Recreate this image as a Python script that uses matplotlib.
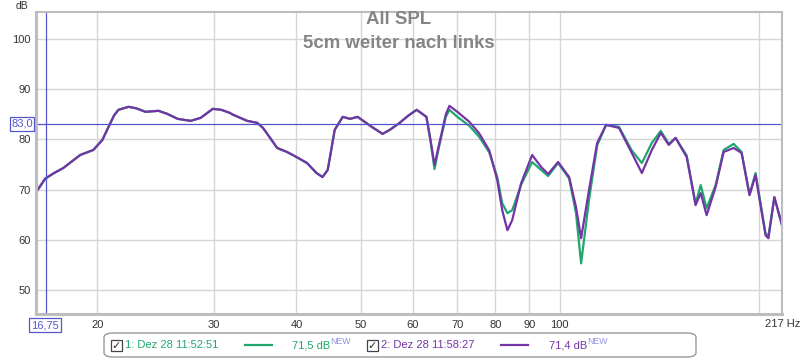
import matplotlib
matplotlib.use("Agg")
import matplotlib.pyplot as plt
from matplotlib.patches import FancyBboxPatch, Rectangle
from matplotlib.ticker import FixedLocator, NullLocator

plt.rcParams['font.family'] = ['Liberation Sans', 'DejaVu Sans']

# frequency points (Hz)
freq = [16.16, 16.68, 17.2, 17.76, 18.84, 19.72, 20.35, 20.93, 21.2, 21.52,
        22.29, 22.9, 23.65, 24.75, 25.5, 26.45, 27.68, 28.66, 29.9, 30.8,
        31.7, 32.1, 33.7, 34.9, 35.6, 36.5, 37.4, 38.7, 40.0, 41.5,
        42.9, 43.8, 44.6, 45.1, 45.7, 47.0, 48.2, 49.5, 52.0, 54.0,
        55.5, 57.3, 59.0, 60.8, 62.9, 63.8, 64.7, 65.6, 66.5, 67.3,
        68.15, 70.06, 73.05, 75.6, 78.3, 80.5, 81.9, 83.4, 84.8, 87.5,
        90.9, 93.8, 96.1, 99.5, 103.4, 105.9, 107.8, 110.8, 114.0, 117.6,
        123.0, 128.6, 133.2, 137.9, 142.3, 146.3, 149.8, 155.7, 160.6, 163.5,
        166.9, 172.2, 177.1, 183.4, 188.5, 193.8, 197.9, 204.9, 207.0, 211.3,
        217.0]

# 2: Dez 28 11:58:27 (purple)
spl2 = [69.5, 72.2, 73.3, 74.3, 76.9, 77.9, 79.9, 83.3, 84.8, 85.9,
        86.5, 86.2, 85.5, 85.7, 85.1, 84.1, 83.7, 84.3, 86.1, 85.9,
        85.3, 84.9, 83.7, 83.3, 82.3, 80.3, 78.3, 77.5, 76.5, 75.3,
        73.3, 72.5, 73.9, 77.5, 81.9, 84.5, 84.1, 84.5, 82.5, 81.1,
        82.0, 83.3, 84.7, 85.9, 84.5, 79.9, 74.9, 78.5, 81.9, 85.0,
        86.7, 85.5, 83.5, 81.2, 77.8, 71.9, 65.9, 61.9, 63.9, 71.3,
        76.9, 74.5, 73.1, 75.5, 72.5, 66.5, 60.3, 69.9, 79.3, 82.9,
        82.3, 77.3, 73.3, 77.9, 81.3, 78.9, 80.3, 76.5, 66.9, 69.3,
        64.9, 70.5, 77.5, 78.3, 77.3, 68.9, 72.9, 60.9, 60.3, 68.5,
        62.9]

# 1: Dez 28 11:52:51 (green)
spl1 = [69.5, 72.2, 73.3, 74.3, 76.9, 77.9, 79.9, 83.3, 84.8, 85.9,
        86.5, 86.2, 85.5, 85.7, 85.1, 84.1, 83.7, 84.3, 86.1, 85.9,
        85.3, 84.9, 83.7, 83.3, 82.3, 80.3, 78.3, 77.5, 76.5, 75.3,
        73.3, 72.5, 73.9, 77.5, 81.9, 84.5, 84.1, 84.5, 82.5, 81.1,
        82.0, 83.3, 84.7, 85.9, 84.5, 79.7, 74.1, 78.0, 81.5, 84.5,
        85.9, 84.5, 82.7, 80.5, 77.4, 72.5, 67.3, 65.3, 65.9, 71.0,
        75.5, 73.9, 72.7, 75.3, 72.2, 65.3, 55.3, 67.9, 78.8, 82.9,
        82.5, 77.8, 75.3, 79.3, 81.7, 79.1, 80.3, 76.8, 67.2, 70.9,
        66.3, 70.9, 77.9, 79.1, 77.5, 69.0, 73.3, 61.3, 60.8, 68.5,
        62.9]

x_ticks = [20, 30, 40, 50, 60, 70, 80, 90, 100]
x_grid = [20, 30, 40, 50, 60, 70, 80, 90, 100, 200]
y_ticks = [50, 60, 70, 80, 90, 100]
cursor_f = 16.75
cursor_db = 83.0

green = '#1fa86c'
purple = '#7433a6'
cursor_col = '#5555cc'

W, H = 800, 360
fig = plt.figure(figsize=(8, 3.6), dpi=100)
fig.patch.set_facecolor('white')

def fx(px):
    return px / W

def fy(py):
    return 1 - py / H

ax = fig.add_axes([fx(36), fy(314), fx(782) - fx(36), fy(12) - fy(314)])
ax.set_xscale('log')
ax.set_xlim(16.15, 217)
ax.set_ylim(45.2, 105.4)

ax.xaxis.set_major_locator(FixedLocator(x_grid))
ax.xaxis.set_minor_locator(NullLocator())
ax.set_xticklabels([str(t) for t in x_ticks] + [''])
ax.set_yticks(y_ticks)
ax.set_yticklabels([str(t) for t in y_ticks])
ax.tick_params(length=0, labelsize=8, colors='#333333', pad=4)
ax.grid(True, color='#d6d6d6', linewidth=1.0)
ax.set_axisbelow(True)
for side, sp in ax.spines.items():
    sp.set_color('#bdbdbd')
    sp.set_linewidth(2.2 if side in ('left', 'bottom') else 1.5)

ax.plot(freq, spl1, color=green, linewidth=1.6, solid_joinstyle='round')
ax.plot(freq, spl2, color=purple, linewidth=1.6, solid_joinstyle='round')

ax.axhline(cursor_db, color=cursor_col, linewidth=0.9)
ax.axvline(cursor_f, color=cursor_col, linewidth=0.9)

# titles
fig.text(fx(399), fy(19), 'All SPL', ha='center', va='center',
         fontsize=13.4, fontweight='bold', color='#858585')
fig.text(fx(399), fy(44), '5cm weiter nach links', ha='center', va='center',
         fontsize=13.4, fontweight='bold', color='#858585')

fig.text(fx(22), fy(6), 'dB', ha='center', va='center', fontsize=7.5, color='#333333')
fig.text(fx(783), fy(324), '217 Hz', ha='center', va='center', fontsize=8, color='#333333')

# cursor readouts
fig.text(fx(22), fy(124), '83,0', ha='center', va='center', fontsize=8, color=cursor_col,
         bbox=dict(boxstyle='square,pad=0.15', fc='white', ec=cursor_col, lw=0.9))
fig.text(fx(45), fy(325), '16,75', ha='center', va='center', fontsize=8, color=cursor_col,
         bbox=dict(boxstyle='square,pad=0.15', fc='white', ec=cursor_col, lw=0.9))

# legend bar
box = FancyBboxPatch((fx(104), fy(357)), fx(696) - fx(104), fy(333) - fy(357),
                     boxstyle='round,pad=0,rounding_size=0.012', transform=fig.transFigure,
                     fc='white', ec='#999999', lw=1.0)
fig.add_artist(box)

entries = [
    (111, '1: Dez 28 11:52:51', green, 245, '71,5 dB', 330),
    (367, '2: Dez 28 11:58:27', purple, 501, '71,4 dB', 587),
]
for cb_x, label, col, lx, val, vx in entries:
    fig.add_artist(Rectangle((fx(cb_x), fy(351)), fx(11), 11 / H, transform=fig.transFigure,
                             fc='white', ec='#444444', lw=0.9))
    fig.text(fx(cb_x + 5.5), fy(345.5), '✓', ha='center', va='center', fontsize=8,
             color='#333333', family=['DejaVu Sans'])
    fig.text(fx(cb_x + 14), fy(345), label, ha='left', va='center', fontsize=8, color=col)
    fig.add_artist(plt.Line2D([fx(lx), fx(lx + 27)], [fy(345), fy(345)],
                              transform=fig.transFigure, color=col, lw=1.6))
    fig.text(fx(vx), fy(345), val, ha='right', va='center', fontsize=8, color=col)
    fig.text(fx(vx + 0.5), fy(341), 'NEW', ha='left', va='center', fontsize=6.3,
             color='#8f8fe0')

fig.savefig('out.png', dpi=100)
